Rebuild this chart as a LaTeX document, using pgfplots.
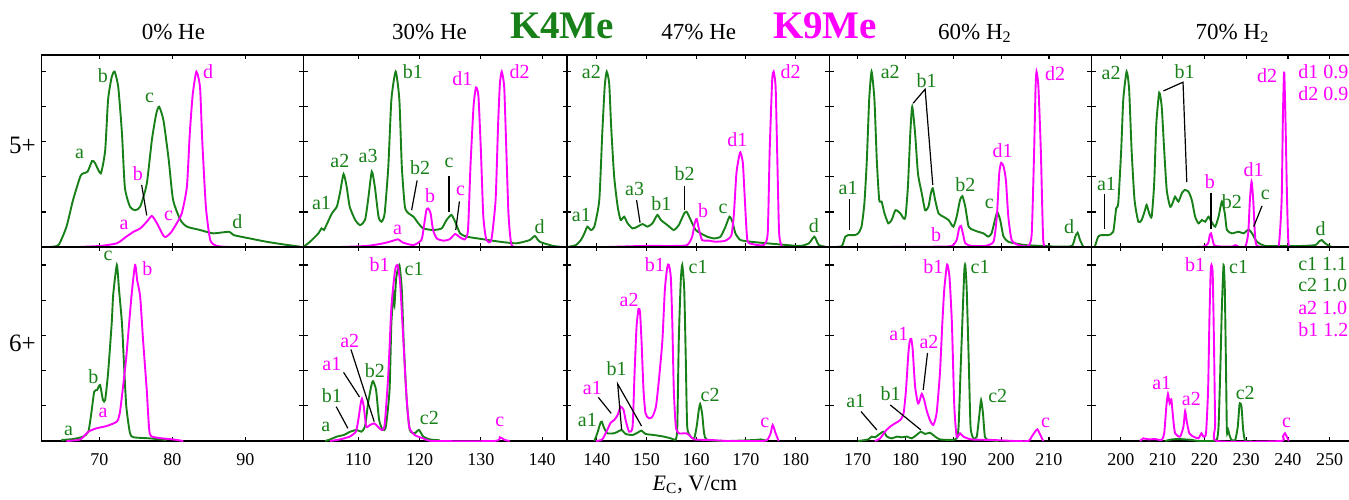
\documentclass[border=0pt]{standalone}
\usepackage{pgfplots}
\pgfplotsset{compat=1.18}
\usepackage{fontspec}
\setmainfont{Liberation Serif}
\definecolor{grn}{RGB}{24,128,24}
\definecolor{mag}{RGB}{255,0,255}
\pgfplotsset{
  panel/.style={
    scale only axis, anchor=south west, width=131pt,
    ymin=0, ytick={0.2,0.4,0.6,0.8,1.0}, yticklabels={},
    xtick distance=10, tick align=inside, tick pos=both, major tick length=2.2pt,
    axis line style={line width=0.8pt}, every tick/.style={black, line width=0.6pt},
    tick label style={font=\fontsize{9}{10}\selectfont},
    /pgf/number format/assume math mode=true,
    xticklabel style={yshift=-2.5pt},
    clip=true,
  },
  top/.style={panel, height=96pt, ymax=1.095, xticklabels={}},
  bot/.style={panel, height=97pt, ymax=1.102},
  G/.style={draw=grn, line width=0.95pt, no marks, smooth, tension=0.35},
  M/.style={draw=mag, line width=0.95pt, no marks, smooth, tension=0.35},
}
\tikzset{
  lg/.style={font=\fontsize{10}{11}\selectfont, inner sep=0pt, text=grn},
  lm/.style={font=\fontsize{10}{11}\selectfont, inner sep=0pt, text=mag},
  ld/.style={black, line width=0.6pt},
}
\begin{document}
\begin{tikzpicture}
% ---------------- column 1 ----------------
\begin{axis}[top, at={(20.65pt,126pt)}, xmin=62.05, xmax=97.95]
\addplot[G] coordinates {(63.0,0) (64.4,.011) (65.5,.116) (66.4,.268) (67.4,.403) (67.8,.42) (68.4,.43) (69.0,.49) (69.4,.48) (70.2,.42) (70.8,.55) (71.2,.84) (71.7,.97) (72.1,1.0) (72.6,.91) (73.1,.65) (73.5,.34) (74.2,.23) (74.9,.21) (75.6,.23) (76.5,.36) (77.2,.61) (77.8,.76) (78.2,.80) (78.8,.72) (79.5,.50) (80.1,.27) (81.1,.155) (82.0,.116) (83.8,.097) (85.6,.078) (87.8,.087) (88.4,.068) (90.6,.049) (92.9,.03) (95.2,.015) (97.5,.002)};
\addplot[M] coordinates {(67.1,0) (70.1,.006) (72.4,.021) (73.7,.059) (74.7,.087) (75.6,.106) (76.5,.144) (77.2,.177) (77.9,.135) (78.8,.063) (79.2,.059) (79.9,.087) (80.6,.135) (81.3,.192) (82.0,.344) (82.4,.65) (82.8,.87) (83.3,1.0) (83.8,.91) (84.1,.61) (84.6,.23) (85.2,.04) (86.1,.006) (87.9,0)};
\node[lg] at (axis cs:67.3,.53) {a};
\node[lg] at (axis cs:70.5,.98) {b};
\node[lg] at (axis cs:76.9,.85) {c};
\node[lg] at (axis cs:88.9,.145) {d};
\node[lm] at (axis cs:73.4,.125) {a};
\node[lm] at (axis cs:75.3,.42) {b};
\node[lm] at (axis cs:79.5,.177) {c};
\node[lm] at (axis cs:84.9,1.0) {d};
\draw[ld] (axis cs:75.8,.354) -- (axis cs:76.5,.18);
\end{axis}
\begin{axis}[bot, at={(20.65pt,29pt)}, xmin=62.05, xmax=97.95]
\addplot[G] coordinates {(64.8,.006) (66.4,.011) (67.8,.025) (68.5,.053) (68.9,.157) (69.3,.28) (69.7,.29) (70.1,.318) (70.5,.233) (70.8,.233) (71.2,.386) (71.7,.67) (71.9,.83) (72.4,1.0) (72.7,.86) (73.1,.67) (73.4,.42) (73.7,.195) (74.2,.044) (74.7,.021) (76.9,.015) (79.2,.006)};
\addplot[M] coordinates {(65.5,0) (67.4,.009) (68.5,.053) (69.6,.072) (71.0,.085) (72.4,.11) (72.8,.157) (73.2,.29) (73.7,.48) (74.4,.82) (74.9,1.0) (75.2,.91) (75.6,.82) (76.0,.57) (76.5,.29) (76.9,.044) (77.9,.019) (80.1,.009) (81.5,0)};
\node[lg] at (axis cs:71.2,1.05) {c};
\node[lg] at (axis cs:69.2,.365) {b};
\node[lg] at (axis cs:65.8,.06) {a};
\node[lm] at (axis cs:76.6,.98) {b};
\node[lm] at (axis cs:70.5,.157) {a};
\end{axis}
% ---------------- column 2 ----------------
\begin{axis}[top, at={(151.65pt,126pt)}, width=131.85pt, xmin=101.03, xmax=144.05]
\addplot[G] coordinates {(101.0,0) (102.1,.029) (103.5,.078) (104.0,.106) (104.4,.097) (104.8,.125) (105.7,.192) (106.5,.23) (107.0,.306) (107.6,.416) (108.1,.344) (108.6,.23) (109.5,.154) (110.3,.125) (111.1,.154) (111.6,.268) (112.2,.43) (112.7,.344) (113.3,.173) (113.8,.144) (114.3,.192) (114.9,.46) (115.4,.84) (116.1,1.0) (116.7,.84) (117.1,.46) (117.6,.23) (118.2,.192) (119.0,.173) (119.8,.135) (120.6,.106) (122.2,.097) (123.6,.106) (124.4,.154) (125.2,.183) (125.8,.144) (126.6,.078) (127.7,.059) (130.4,.044) (133.1,.03) (135.8,.021) (138.0,.04) (138.8,.063) (139.6,.03) (141.8,.006) (143.4,0)};
\addplot[M] coordinates {(107.0,0) (111.4,.006) (114.1,.021) (115.7,.036) (116.5,.044) (117.3,.025) (119.0,.011) (120.3,.040) (120.7,.116) (121.1,.21) (121.4,.22) (121.8,.192) (122.2,.097) (122.8,.049) (123.9,.036) (124.9,.044) (125.8,.074) (126.6,.055) (127.4,.044) (127.9,.097) (128.3,.46) (128.8,.80) (129.2,.91) (129.6,.86) (130.0,.55) (130.4,.173) (130.9,.04) (131.7,.04) (132.4,.268) (132.8,.69) (133.1,.93) (133.4,1.0) (133.8,.915) (134.1,.61) (134.5,.192) (135.0,.011) (136.4,0)};
\node[lg] at (axis cs:104.0,.25) {a1};
\node[lg] at (axis cs:107.0,.49) {a2};
\node[lg] at (axis cs:111.6,.52) {a3};
\node[lg] at (axis cs:118.9,1.0) {b1};
\node[lg] at (axis cs:120.1,.45) {b2};
\node[lg] at (axis cs:124.8,.48) {c};
\node[lg] at (axis cs:139.6,.116) {d};
\node[lm] at (axis cs:116.4,.1) {a};
\node[lm] at (axis cs:121.7,.29) {b};
\node[lm] at (axis cs:126.7,.32) {c};
\node[lm] at (axis cs:127.0,.96) {d1};
\node[lm] at (axis cs:136.3,1.0) {d2};
\draw[ld] (axis cs:119.6,.38) -- (axis cs:118.7,.21);
\draw[ld] (axis cs:124.8,.405) -- (axis cs:124.8,.20);
\draw[ld] (axis cs:126.5,.26) -- (axis cs:125.9,.097);
\end{axis}
\begin{axis}[bot, at={(151.65pt,29pt)}, width=131.85pt, xmin=101.03, xmax=144.05]
\addplot[G] coordinates {(104.6,0) (105.4,.009) (106.5,.025) (107.6,.034) (108.7,.053) (109.7,.063) (110.5,.053) (111.1,.082) (111.6,.214) (112.1,.31) (112.4,.34) (112.9,.29) (113.4,.119) (114.0,.063) (114.5,.082) (115.1,.29) (115.4,.67) (115.8,.85) (115.9,.77) (116.2,.93) (116.7,1.0) (117.1,.86) (117.4,.57) (117.9,.23) (118.4,.063) (119.2,.044) (119.9,.063) (120.6,.025) (121.7,.009) (123.3,.004)};
\addplot[M] coordinates {(105.4,0) (107.0,.009) (108.6,.025) (109.6,.053) (110.0,.119) (110.4,.214) (110.6,.24) (110.9,.195) (111.3,.082) (111.9,.091) (112.6,.1) (113.2,.082) (113.8,.063) (114.3,.091) (114.9,.38) (115.4,.76) (116.0,.97) (116.4,1.0) (116.8,.91) (117.2,.67) (117.8,.29) (118.3,.082) (119.2,.034) (120.6,.015) (122.2,0) (132.3,0) (133.1,.021) (133.9,.006) (134.7,0)};
\node[lg] at (axis cs:105.7,.26) {b1};
\node[lg] at (axis cs:104.7,.08) {a};
\node[lg] at (axis cs:112.7,.40) {b2};
\node[lg] at (axis cs:119.1,.975) {c1};
\node[lg] at (axis cs:121.6,.13) {c2};
\node[lm] at (axis cs:113.5,1.0) {b1};
\node[lm] at (axis cs:108.6,.57) {a2};
\node[lm] at (axis cs:105.7,.44) {a1};
\node[lm] at (axis cs:133.1,.11) {c};
\draw[ld] (axis cs:106.4,.195) -- (axis cs:108.3,.072);
\draw[ld] (axis cs:107.6,.39) -- (axis cs:110.2,.25);
\draw[ld] (axis cs:108.8,.52) -- (axis cs:112.6,.11);
\end{axis}
% ---------------- column 3 ----------------
\begin{axis}[top, at={(283.5pt,126pt)}, width=131.15pt, xmin=134, xmax=186.8]
\addplot[G] coordinates {(134.1,0) (135.8,.011) (136.8,.04) (137.5,.078) (138.1,.116) (138.8,.097) (139.5,.116) (140.5,.268) (141.1,.65) (141.6,.92) (142.0,1.0) (142.5,.93) (142.9,.68) (143.5,.40) (144.2,.23) (144.8,.154) (145.5,.173) (146.2,.135) (147.2,.106) (148.2,.116) (149.2,.131) (150.2,.116) (151.2,.135) (152.2,.183) (152.9,.154) (154.2,.125) (155.5,.097) (156.5,.125) (157.6,.192) (158.1,.20) (158.9,.154) (159.9,.097) (160.9,.078) (162.2,.059) (163.6,.049) (164.9,.059) (165.9,.116) (166.7,.173) (167.3,.144) (167.9,.078) (168.9,.04) (171.0,.03) (174.3,.021) (178.3,.011) (181.0,.006) (182.7,.021) (183.8,.059) (184.7,.011) (186.4,0)};
\addplot[M] coordinates {(142.1,0) (149.5,.006) (155.5,.006) (158.2,.011) (159.2,.059) (159.7,.135) (160.1,.16) (160.6,.097) (161.2,.04) (162.6,.036) (163.9,.03) (165.9,.036) (167.1,.068) (167.6,.19) (168.1,.42) (168.6,.51) (168.9,.54) (169.4,.48) (169.8,.27) (170.3,.04) (171.3,.017) (173.6,.011) (174.4,.078) (174.8,.55) (175.3,.95) (175.6,1.0) (176.0,.91) (176.3,.55) (176.7,.078) (177.3,0)};
\node[lg] at (axis cs:136.9,.18) {a1};
\node[lg] at (axis cs:138.9,1.0) {a2};
\node[lg] at (axis cs:147.6,.33) {a3};
\node[lg] at (axis cs:153.0,.245) {b1};
\node[lg] at (axis cs:157.7,.42) {b2};
\node[lg] at (axis cs:165.4,.22) {c};
\node[lg] at (axis cs:183.7,.12) {d};
\node[lm] at (axis cs:161.4,.21) {b};
\node[lm] at (axis cs:168.3,.61) {d1};
\node[lm] at (axis cs:179.0,1.0) {d2};
\draw[ld] (axis cs:148.0,.268) -- (axis cs:148.7,.139);
\draw[ld] (axis cs:157.7,.348) -- (axis cs:157.7,.211);
\end{axis}
\begin{axis}[bot, at={(283.5pt,29pt)}, width=131.15pt, xmin=134, xmax=186.8]
\addplot[G] coordinates {(139.5,0) (140.1,.044) (140.7,.1) (141.0,.11) (141.5,.072) (142.1,.044) (143.5,.044) (144.5,.057) (145.0,.063) (145.8,.04) (147.2,.034) (148.2,.047) (149.0,.059) (149.8,.04) (151.5,.034) (153.5,.025) (154.9,.015) (155.9,.009) (156.2,.082) (156.5,.57) (156.9,.91) (157.2,1.0) (157.6,.86) (157.9,.48) (158.2,.082) (158.9,.025) (159.6,.015) (160.1,.082) (160.5,.17) (160.8,.21) (161.2,.157) (161.6,.044) (162.2,.006) (166.3,0) (172.0,.006) (173.0,.009) (174.3,0)};
\addplot[M] coordinates {(139.8,0) (141.1,.009) (142.1,.063) (142.8,.104) (143.5,.119) (144.2,.148) (144.8,.195) (145.4,.176) (145.8,.119) (146.5,.053) (147.2,.082) (147.6,.386) (148.0,.65) (148.4,.75) (148.7,.73) (149.0,.57) (149.4,.29) (149.8,.157) (150.5,.129) (151.2,.138) (151.9,.195) (152.5,.346) (153.2,.57) (153.7,.86) (154.2,.99) (154.5,1.0) (154.9,.93) (155.2,.67) (155.5,.29) (155.9,.082) (156.5,.044) (157.9,.044) (158.6,.034) (159.6,.009) (162.9,.006) (166.3,0) (173.0,0) (174.3,.006) (175.0,.044) (175.4,.091) (176.0,.044) (176.6,0)};
\node[lm] at (axis cs:151.7,1.0) {b1};
\node[lm] at (axis cs:146.5,.80) {a2};
\node[lm] at (axis cs:139.1,.30) {a1};
\node[lm] at (axis cs:173.8,.104) {c};
\node[lg] at (axis cs:160.4,.99) {c1};
\node[lg] at (axis cs:144.0,.41) {b1};
\node[lg] at (axis cs:138.1,.12) {a1};
\node[lg] at (axis cs:162.8,.26) {c2};
\draw[ld] (axis cs:140.3,.248) -- (axis cs:142.9,.157);
\draw[ld] (axis cs:145.0,.063) -- (axis cs:144.2,.324) -- (axis cs:149.0,.085);
\end{axis}
% ---------------- column 4 ----------------
\begin{axis}[top, at={(414.65pt,126pt)}, width=131.1pt, xmin=164.06, xmax=218.9]
\addplot[G] coordinates {(165.3,0) (166.7,.006) (167.4,.059) (168.0,.068) (169.4,.068) (170.1,.078) (170.8,.116) (171.4,.25) (171.9,.49) (172.4,.84) (172.9,1.0) (173.5,.84) (174.0,.49) (174.5,.268) (175.0,.259) (175.6,.192) (176.4,.135) (177.1,.154) (177.9,.21) (178.9,.192) (179.6,.163) (180.0,.173) (180.5,.344) (181.0,.65) (181.4,.80) (182.0,.65) (182.6,.42) (183.4,.306) (184.1,.21) (184.8,.23) (185.3,.306) (185.7,.335) (186.2,.268) (186.9,.192) (187.9,.173) (189.0,.154) (190.0,.116) (190.7,.173) (191.4,.268) (191.9,.29) (192.5,.23) (193.2,.116) (194.2,.097) (195.2,.087) (196.3,.078) (197.3,.059) (198.0,.078) (198.7,.154) (199.2,.198) (199.8,.154) (200.5,.059) (201.5,.030) (202.9,.021) (205.0,.011) (208.5,.006) (212.0,.002) (214.8,.006) (215.5,.059) (216.0,.082) (216.5,.04) (217.2,0)};
\addplot[M] coordinates {(175.0,0) (186.9,.002) (189.7,.006) (190.7,.040) (191.2,.106) (191.6,.12) (192.0,.078) (192.5,.021) (193.8,.006) (196.6,.006) (198.4,.030) (199.1,.173) (199.6,.42) (200.0,.48) (200.5,.46) (201.0,.38) (201.5,.173) (202.2,.04) (203.6,.011) (205.7,.006) (206.4,.078) (206.9,.55) (207.2,.91) (207.4,1.0) (207.8,.91) (208.3,.55) (208.8,.04) (209.5,0)};
\node[lg] at (axis cs:168.0,.335) {a1};
\node[lg] at (axis cs:176.8,1.0) {a2};
\node[lg] at (axis cs:184.4,.95) {b1};
\node[lg] at (axis cs:192.5,.354) {b2};
\node[lg] at (axis cs:197.5,.245) {c};
\node[lg] at (axis cs:214.2,.116) {d};
\node[lm] at (axis cs:186.4,.068) {b};
\node[lm] at (axis cs:200.3,.55) {d1};
\node[lm] at (axis cs:211.3,.99) {d2};
\draw[ld] (axis cs:168.2,.274) -- (axis cs:168.2,.097);
\draw[ld] (axis cs:181.6,.82) -- (axis cs:184.1,.90) -- (axis cs:185.7,.354);
\end{axis}
\begin{axis}[bot, at={(414.65pt,29pt)}, width=131.1pt, xmin=164.06, xmax=218.9]
\addplot[G] coordinates {(170.1,0) (172.2,.009) (172.9,.025) (173.6,.021) (174.3,.034) (175.4,.053) (176.1,.025) (177.1,.015) (178.2,.025) (179.2,.021) (180.3,.025) (181.3,.015) (182.3,.034) (183.2,.053) (184.1,.04) (185.1,.047) (186.2,.025) (187.2,.009) (189.7,.006) (190.7,.015) (191.1,.082) (191.5,.386) (192.0,.76) (192.3,.97) (192.5,1.0) (192.8,.86) (193.2,.48) (193.6,.082) (194.2,.015) (194.9,.025) (195.4,.138) (195.8,.233) (196.2,.157) (196.6,.025) (197.3,.006) (199.4,0)};
\addplot[M] coordinates {(173.6,0) (174.7,.015) (175.7,.053) (176.8,.082) (177.8,.1) (178.9,.119) (179.6,.157) (180.1,.29) (180.6,.5) (180.9,.57) (181.2,.58) (181.5,.52) (182.0,.31) (182.6,.214) (183.0,.233) (183.4,.268) (183.9,.233) (184.4,.176) (185.1,.119) (185.8,.091) (186.5,.157) (187.2,.386) (187.7,.67) (188.1,.86) (188.6,.99) (188.8,1.0) (189.2,.93) (189.7,.67) (190.2,.2) (190.7,.025) (191.4,.044) (192.1,.025) (193.8,.009) (198.0,.006) (202.9,0) (205.7,0) (206.4,.025) (207.1,.053) (207.6,.066) (208.2,.034) (208.8,0)};
\node[lm] at (axis cs:185.8,.99) {b1};
\node[lm] at (axis cs:178.6,.61) {a1};
\node[lm] at (axis cs:184.9,.56) {a2};
\node[lm] at (axis cs:209.3,.104) {c};
\node[lg] at (axis cs:195.6,.99) {c1};
\node[lg] at (axis cs:169.6,.23) {a1};
\node[lg] at (axis cs:176.9,.27) {b1};
\node[lg] at (axis cs:199.3,.256) {c2};
\draw[ld] (axis cs:184.6,.50) -- (axis cs:183.7,.29);
\draw[ld] (axis cs:170.7,.167) -- (axis cs:174.0,.063);
\draw[ld] (axis cs:176.8,.205) -- (axis cs:183.2,.063);
\end{axis}
% ---------------- column 5 ----------------
\begin{axis}[top, at={(545.75pt,126pt)}, width=131pt, xmin=193, xmax=255.7]
\addplot[G] coordinates {(193.8,.002) (194.6,.059) (195.4,.068) (197.0,.068) (198.2,.087) (198.9,.22) (199.4,.25) (200.1,.55) (200.6,.84) (201.4,1.0) (202.0,.90) (202.6,.55) (203.3,.268) (204.2,.144) (205.0,.154) (205.8,.21) (206.2,.24) (206.8,.192) (207.4,.173) (208.0,.363) (208.5,.70) (209.2,.88) (209.8,.80) (210.4,.55) (211.0,.325) (211.8,.23) (212.4,.25) (213.0,.287) (213.8,.259) (214.6,.306) (215.3,.325) (216.2,.316) (217.0,.268) (217.8,.173) (218.6,.135) (219.4,.154) (220.2,.144) (221.0,.173) (221.7,.144) (222.6,.116) (223.4,.173) (224.2,.259) (224.9,.192) (225.4,.097) (226.6,.078) (228.2,.087) (229.4,.078) (230.6,.1) (231.4,.078) (232.6,.030) (234.6,.006) (239.4,.006) (243.4,.006) (246.6,.011) (247.4,.030) (248.1,.040) (248.9,.021) (250.6,0) (254.6,0)};
\addplot[M] coordinates {(217.0,0) (219.8,.002) (220.9,.021) (221.3,.068) (221.6,.078) (222.0,.040) (222.6,.006) (226.6,.002) (227.4,.011) (228.2,.002) (229.8,.002) (230.5,.078) (230.9,.268) (231.3,.373) (231.7,.268) (232.1,.078) (232.6,.006) (236.2,0) (237.8,.006) (238.5,.268) (238.8,.745) (239.1,1.0) (239.4,.745) (239.8,.268) (240.2,.006) (241.8,0)};
\node[lg] at (axis cs:196.6,.36) {a1};
\node[lg] at (axis cs:197.7,.99) {a2};
\node[lg] at (axis cs:215.3,1.0) {b1};
\node[lg] at (axis cs:226.6,.26) {b2};
\node[lg] at (axis cs:234.6,.30) {c};
\node[lg] at (axis cs:247.8,.106) {d};
\node[lm] at (axis cs:221.3,.37) {b};
\node[lm] at (axis cs:231.8,.44) {d1};
\node[lm] at (axis cs:235.0,.98) {d2};
\node[lm, anchor=west] at (axis cs:242.4,1.0) {d1 0.9};
\node[lm, anchor=west] at (axis cs:242.4,.876) {d2 0.9};
\draw[ld] (axis cs:196.1,.30) -- (axis cs:196.1,.10);
\draw[ld] (axis cs:210.2,.89) -- (axis cs:214.9,.94) -- (axis cs:215.8,.37);
\draw[ld] (axis cs:221.6,.31) -- (axis cs:221.6,.10);
\draw[ld] (axis cs:233.8,.234) -- (axis cs:231.8,.116);
\end{axis}
\begin{axis}[bot, at={(545.75pt,29pt)}, width=131pt, xmin=193, xmax=255.7]
\addplot[G] coordinates {(210.6,0) (212.2,.009) (213.8,.011) (215.4,.009) (217.0,.006) (218.6,0) (221.8,0) (223.0,.009) (223.4,.082) (223.8,.386) (224.2,.76) (224.6,1.0) (224.9,.86) (225.2,.386) (225.4,.053) (225.7,.063) (226.0,.034) (226.5,.006) (227.4,.006) (228.0,.082) (228.4,.205) (228.6,.214) (228.9,.195) (229.3,.063) (229.8,0) (231.4,0)};
\addplot[M] coordinates {(204.6,0) (205.4,.015) (206.6,.009) (208.2,.011) (209.8,.006) (210.4,.044) (210.9,.195) (211.3,.267) (211.7,.214) (212.1,.237) (212.5,.138) (213.0,.044) (214.2,.025) (215.0,.082) (215.4,.17) (215.8,.11) (216.4,.044) (217.4,.025) (218.6,.015) (219.3,.044) (219.8,.025) (220.4,.044) (220.9,.29) (221.2,.67) (221.5,.95) (221.7,1.0) (222.0,.95) (222.3,.57) (222.6,.1) (223.0,0) (238.2,0) (238.8,.025) (239.3,.044) (239.8,.021) (240.2,0)};
\node[lm] at (axis cs:217.8,1.0) {b1};
\node[lm] at (axis cs:209.8,.33) {a1};
\node[lm] at (axis cs:216.9,.24) {a2};
\node[lm] at (axis cs:239.7,.104) {c};
\node[lg] at (axis cs:228.2,.99) {c1};
\node[lg] at (axis cs:229.8,.275) {c2};
\node[lg, anchor=west] at (axis cs:242.4,1.006) {c1 1.1};
\node[lg, anchor=west] at (axis cs:242.4,.886) {c2 1.0};
\node[lm, anchor=west] at (axis cs:242.4,.754) {a2 1.0};
\node[lm, anchor=west] at (axis cs:242.4,.634) {b1 1.2};
\end{axis}
% ---------------- titles and labels ----------------
\node[anchor=base, font=\fontsize{11.5}{13}\selectfont] at (86.7pt,229.9pt) {0\% He};
\node[anchor=base, font=\fontsize{11.5}{13}\selectfont] at (214.75pt,229.9pt) {30\% He};
\node[anchor=base, font=\fontsize{11.5}{13}\selectfont] at (349.4pt,229.9pt) {47\% He};
\node[anchor=base, font=\fontsize{11.5}{13}\selectfont] at (487.5pt,229.9pt) {60\% H\textsubscript{2}};
\node[anchor=base, font=\fontsize{11.5}{13}\selectfont] at (616.25pt,229.9pt) {70\% H\textsubscript{2}};
\node[anchor=base, font=\fontsize{19.5}{22}\selectfont\bfseries, text=grn] at (281pt,230.3pt) {K4Me};
\node[anchor=base, font=\fontsize{19.5}{22}\selectfont\bfseries, text=mag] at (412.5pt,230.3pt) {K9Me};
\node[font=\fontsize{12.5}{14}\selectfont] at (11.25pt,177pt) {5+};
\node[font=\fontsize{12.5}{14}\selectfont] at (11.25pt,77.9pt) {6+};
\node[anchor=base, font=\fontsize{11}{13}\selectfont] at (347.5pt,4.2pt) {\textit{E}\textsubscript{C}, V/cm};
\pgfresetboundingbox
\path[use as bounding box] (0,0) rectangle (674.5pt,249.5pt);
\end{tikzpicture}
\end{document}
